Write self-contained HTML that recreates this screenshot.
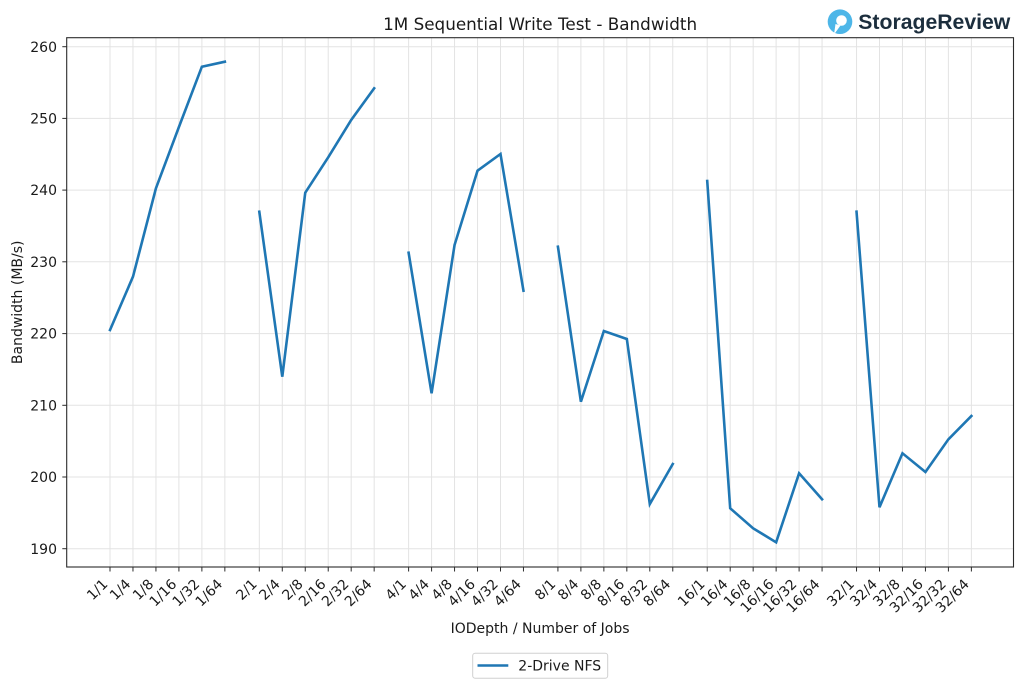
<!DOCTYPE html>
<html>
<head>
<meta charset="utf-8">
<style>
html,body{margin:0;padding:0;background:#fff;}
svg{display:block;}
text{font-family:"DejaVu Sans","Liberation Sans",sans-serif;fill:#1a1a1a;}
</style>
</head>
<body>
<svg width="1024" height="689" viewBox="0 0 1024 689" xmlns="http://www.w3.org/2000/svg">
<rect x="0" y="0" width="1024" height="689" fill="#fff"/>

<!-- grid: horizontal -->
<g stroke="#e3e3e3" stroke-width="1">
<line x1="66.7" x2="1013.5" y1="548.7" y2="548.7"/>
<line x1="66.7" x2="1013.5" y1="477.0" y2="477.0"/>
<line x1="66.7" x2="1013.5" y1="405.3" y2="405.3"/>
<line x1="66.7" x2="1013.5" y1="333.6" y2="333.6"/>
<line x1="66.7" x2="1013.5" y1="261.8" y2="261.8"/>
<line x1="66.7" x2="1013.5" y1="190.1" y2="190.1"/>
<line x1="66.7" x2="1013.5" y1="118.4" y2="118.4"/>
<line x1="66.7" x2="1013.5" y1="46.7" y2="46.7"/>
</g>
<!-- grid: vertical -->
<g stroke="#e3e3e3" stroke-width="1">
<line y1="37.7" y2="567" x1="110" x2="110"/>
<line y1="37.7" y2="567" x1="132.97" x2="132.97"/>
<line y1="37.7" y2="567" x1="155.94" x2="155.94"/>
<line y1="37.7" y2="567" x1="178.91" x2="178.91"/>
<line y1="37.7" y2="567" x1="201.88" x2="201.88"/>
<line y1="37.7" y2="567" x1="224.85" x2="224.85"/>
<line y1="37.7" y2="567" x1="259.3" x2="259.3"/>
<line y1="37.7" y2="567" x1="282.28" x2="282.28"/>
<line y1="37.7" y2="567" x1="305.25" x2="305.25"/>
<line y1="37.7" y2="567" x1="328.22" x2="328.22"/>
<line y1="37.7" y2="567" x1="351.19" x2="351.19"/>
<line y1="37.7" y2="567" x1="374.16" x2="374.16"/>
<line y1="37.7" y2="567" x1="408.61" x2="408.61"/>
<line y1="37.7" y2="567" x1="431.58" x2="431.58"/>
<line y1="37.7" y2="567" x1="454.55" x2="454.55"/>
<line y1="37.7" y2="567" x1="477.52" x2="477.52"/>
<line y1="37.7" y2="567" x1="500.49" x2="500.49"/>
<line y1="37.7" y2="567" x1="523.46" x2="523.46"/>
<line y1="37.7" y2="567" x1="557.92" x2="557.92"/>
<line y1="37.7" y2="567" x1="580.89" x2="580.89"/>
<line y1="37.7" y2="567" x1="603.86" x2="603.86"/>
<line y1="37.7" y2="567" x1="626.83" x2="626.83"/>
<line y1="37.7" y2="567" x1="649.8" x2="649.8"/>
<line y1="37.7" y2="567" x1="672.77" x2="672.77"/>
<line y1="37.7" y2="567" x1="707.22" x2="707.22"/>
<line y1="37.7" y2="567" x1="730.19" x2="730.19"/>
<line y1="37.7" y2="567" x1="753.16" x2="753.16"/>
<line y1="37.7" y2="567" x1="776.13" x2="776.13"/>
<line y1="37.7" y2="567" x1="799.1" x2="799.1"/>
<line y1="37.7" y2="567" x1="822.07" x2="822.07"/>
<line y1="37.7" y2="567" x1="856.53" x2="856.53"/>
<line y1="37.7" y2="567" x1="879.5" x2="879.5"/>
<line y1="37.7" y2="567" x1="902.47" x2="902.47"/>
<line y1="37.7" y2="567" x1="925.44" x2="925.44"/>
<line y1="37.7" y2="567" x1="948.41" x2="948.41"/>
<line y1="37.7" y2="567" x1="971.38" x2="971.38"/>
</g>

<!-- data -->
<g fill="none" stroke="#1f77b4" stroke-width="2.6" stroke-linejoin="miter" stroke-linecap="square">
<polyline points="110,330 132.97,276.7 155.94,188.3 178.91,127 201.88,66.7 224.85,61.7"/>
<polyline points="259.3,211.7 282.28,376.7 305.25,192.7 328.22,157.3 351.19,120 374.16,88.3"/>
<polyline points="408.61,252.7 431.58,393.3 454.55,245 477.52,170.7 500.49,154 523.46,290.7"/>
<polyline points="557.92,246.7 580.89,401.7 603.86,331 626.83,339 649.8,504 672.77,464"/>
<polyline points="707.22,181 730.19,508.3 753.16,528.3 776.13,542.3 799.1,473.3 822.07,499.3"/>
<polyline points="856.53,211.7 879.5,507.3 902.47,453.3 925.44,472 948.41,439.3 971.38,416"/>
</g>

<!-- frame -->
<rect x="66.7" y="37.7" width="946.8" height="529.3" fill="none" stroke="#2b2b2b" stroke-width="1.1"/>

<!-- y ticks -->
<g stroke="#2b2b2b" stroke-width="1">
<line x1="62.3" x2="66.7" y1="548.7" y2="548.7"/>
<line x1="62.3" x2="66.7" y1="477.0" y2="477.0"/>
<line x1="62.3" x2="66.7" y1="405.3" y2="405.3"/>
<line x1="62.3" x2="66.7" y1="333.6" y2="333.6"/>
<line x1="62.3" x2="66.7" y1="261.8" y2="261.8"/>
<line x1="62.3" x2="66.7" y1="190.1" y2="190.1"/>
<line x1="62.3" x2="66.7" y1="118.4" y2="118.4"/>
<line x1="62.3" x2="66.7" y1="46.7" y2="46.7"/>
</g>
<g font-size="14" text-anchor="end">
<text x="57" y="553.8">190</text>
<text x="57" y="482.1">200</text>
<text x="57" y="410.4">210</text>
<text x="57" y="338.7">220</text>
<text x="57" y="266.9">230</text>
<text x="57" y="195.2">240</text>
<text x="57" y="123.5">250</text>
<text x="57" y="51.8">260</text>
</g>

<!-- x ticks -->
<g stroke="#2b2b2b" stroke-width="1">
<line y1="567" y2="571.5" x1="110" x2="110"/>
<line y1="567" y2="571.5" x1="132.97" x2="132.97"/>
<line y1="567" y2="571.5" x1="155.94" x2="155.94"/>
<line y1="567" y2="571.5" x1="178.91" x2="178.91"/>
<line y1="567" y2="571.5" x1="201.88" x2="201.88"/>
<line y1="567" y2="571.5" x1="224.85" x2="224.85"/>
<line y1="567" y2="571.5" x1="259.3" x2="259.3"/>
<line y1="567" y2="571.5" x1="282.28" x2="282.28"/>
<line y1="567" y2="571.5" x1="305.25" x2="305.25"/>
<line y1="567" y2="571.5" x1="328.22" x2="328.22"/>
<line y1="567" y2="571.5" x1="351.19" x2="351.19"/>
<line y1="567" y2="571.5" x1="374.16" x2="374.16"/>
<line y1="567" y2="571.5" x1="408.61" x2="408.61"/>
<line y1="567" y2="571.5" x1="431.58" x2="431.58"/>
<line y1="567" y2="571.5" x1="454.55" x2="454.55"/>
<line y1="567" y2="571.5" x1="477.52" x2="477.52"/>
<line y1="567" y2="571.5" x1="500.49" x2="500.49"/>
<line y1="567" y2="571.5" x1="523.46" x2="523.46"/>
<line y1="567" y2="571.5" x1="557.92" x2="557.92"/>
<line y1="567" y2="571.5" x1="580.89" x2="580.89"/>
<line y1="567" y2="571.5" x1="603.86" x2="603.86"/>
<line y1="567" y2="571.5" x1="626.83" x2="626.83"/>
<line y1="567" y2="571.5" x1="649.8" x2="649.8"/>
<line y1="567" y2="571.5" x1="672.77" x2="672.77"/>
<line y1="567" y2="571.5" x1="707.22" x2="707.22"/>
<line y1="567" y2="571.5" x1="730.19" x2="730.19"/>
<line y1="567" y2="571.5" x1="753.16" x2="753.16"/>
<line y1="567" y2="571.5" x1="776.13" x2="776.13"/>
<line y1="567" y2="571.5" x1="799.1" x2="799.1"/>
<line y1="567" y2="571.5" x1="822.07" x2="822.07"/>
<line y1="567" y2="571.5" x1="856.53" x2="856.53"/>
<line y1="567" y2="571.5" x1="879.5" x2="879.5"/>
<line y1="567" y2="571.5" x1="902.47" x2="902.47"/>
<line y1="567" y2="571.5" x1="925.44" x2="925.44"/>
<line y1="567" y2="571.5" x1="948.41" x2="948.41"/>
<line y1="567" y2="571.5" x1="971.38" x2="971.38"/>
</g>
<g font-size="14" text-anchor="end">
<text transform="translate(108.5,585) rotate(-45)">1/1</text>
<text transform="translate(131.47,585) rotate(-45)">1/4</text>
<text transform="translate(154.44,585) rotate(-45)">1/8</text>
<text transform="translate(177.41,585) rotate(-45)">1/16</text>
<text transform="translate(200.38,585) rotate(-45)">1/32</text>
<text transform="translate(223.35,585) rotate(-45)">1/64</text>
<text transform="translate(257.8,585) rotate(-45)">2/1</text>
<text transform="translate(280.78,585) rotate(-45)">2/4</text>
<text transform="translate(303.75,585) rotate(-45)">2/8</text>
<text transform="translate(326.72,585) rotate(-45)">2/16</text>
<text transform="translate(349.69,585) rotate(-45)">2/32</text>
<text transform="translate(372.66,585) rotate(-45)">2/64</text>
<text transform="translate(407.11,585) rotate(-45)">4/1</text>
<text transform="translate(430.08,585) rotate(-45)">4/4</text>
<text transform="translate(453.05,585) rotate(-45)">4/8</text>
<text transform="translate(476.02,585) rotate(-45)">4/16</text>
<text transform="translate(498.99,585) rotate(-45)">4/32</text>
<text transform="translate(521.96,585) rotate(-45)">4/64</text>
<text transform="translate(556.42,585) rotate(-45)">8/1</text>
<text transform="translate(579.39,585) rotate(-45)">8/4</text>
<text transform="translate(602.36,585) rotate(-45)">8/8</text>
<text transform="translate(625.33,585) rotate(-45)">8/16</text>
<text transform="translate(648.3,585) rotate(-45)">8/32</text>
<text transform="translate(671.27,585) rotate(-45)">8/64</text>
<text transform="translate(705.72,585) rotate(-45)">16/1</text>
<text transform="translate(728.69,585) rotate(-45)">16/4</text>
<text transform="translate(751.66,585) rotate(-45)">16/8</text>
<text transform="translate(774.63,585) rotate(-45)">16/16</text>
<text transform="translate(797.6,585) rotate(-45)">16/32</text>
<text transform="translate(820.57,585) rotate(-45)">16/64</text>
<text transform="translate(855.03,585) rotate(-45)">32/1</text>
<text transform="translate(878,585) rotate(-45)">32/4</text>
<text transform="translate(900.97,585) rotate(-45)">32/8</text>
<text transform="translate(923.94,585) rotate(-45)">32/16</text>
<text transform="translate(946.91,585) rotate(-45)">32/32</text>
<text transform="translate(969.88,585) rotate(-45)">32/64</text>
</g>

<!-- axis labels -->
<text x="540.1" y="633" font-size="14" text-anchor="middle">IODepth / Number of Jobs</text>
<text transform="translate(22,302.3) rotate(-90)" font-size="14" text-anchor="middle">Bandwidth (MB/s)</text>

<!-- title -->
<text x="540.1" y="30" font-size="16.8" text-anchor="middle">1M Sequential Write Test - Bandwidth</text>

<!-- legend -->
<rect x="472.7" y="653.3" width="135" height="25" rx="2.5" ry="2.5" fill="#fff" stroke="#d0d0d0" stroke-width="1"/>
<line x1="477.5" x2="508.3" y1="665.5" y2="665.5" stroke="#1f77b4" stroke-width="2.6"/>
<text x="518.3" y="670.5" font-size="14">2-Drive NFS</text>

<!-- logo -->
<circle cx="840" cy="21.7" r="12.3" fill="#4db6e8"/>
<circle cx="841.5" cy="20.5" r="5.3" fill="#fff"/>
<path d="M834 34.5 L835.5 24 L840.5 25.5 Z" fill="#fff"/>
<text x="858.3" y="29" font-size="21" font-weight="bold" textLength="152" lengthAdjust="spacingAndGlyphs" style="font-family:'Liberation Sans',sans-serif;fill:#1c2e3d;">StorageReview</text>
</svg>
</body>
</html>
